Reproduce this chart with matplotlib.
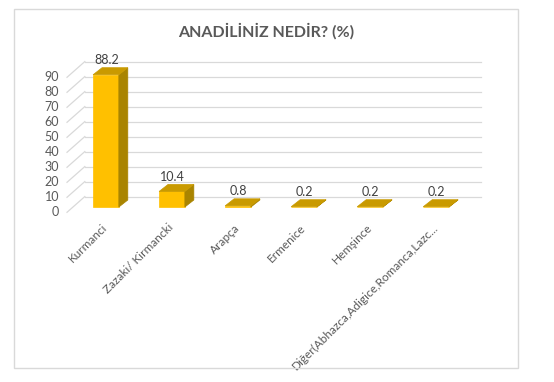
import matplotlib
matplotlib.use("Agg")
from matplotlib import pyplot as plt
from matplotlib.patches import Polygon, Rectangle

categories = ["Kurmanci", "Zazaki/ Kirmancki", "Arapça", "Ermenice", "Hemşince",
              "Diğer(Abhazca,Adigice,Romanca,Lazc..."]
values = [88.2, 10.4, 0.8, 0.2, 0.2, 0.2]
yticks = [0, 10, 20, 30, 40, 50, 60, 70, 80, 90]

plt.rcParams['font.family'] = ['Lato', 'DejaVu Sans']

W, H = 554, 382
fig = plt.figure(figsize=(W / 100, H / 100), dpi=100)

# chart border
fig.patches.append(Rectangle((14 / W, (H - 368) / H), 504 / W, 359 / H,
                             transform=fig.transFigure, fill=False,
                             edgecolor='#D9D9D9', lw=1))

# plot area: front 0 at y=212 px, 1.5 px per unit, 66 px per category
ax = fig.add_axes([67 / W, (H - 212.3) / H, 414 / W, 153 / H])
ax.set_xlim(-0.5, 5.77)
ax.set_ylim(0, 102)
ax.axis('off')

wall_dx, wall_dy = 0.27, 10.5
bar_w, bar_dx, bar_dy = 0.39, 0.136, 4.7
sx, sy = 0.09, 3.5
grid_c = '#D9D9D9'
txt_c = '#595959'

for t in yticks:
    ax.plot([-0.5 + wall_dx, 5.5 + wall_dx], [t + wall_dy, t + wall_dy],
            color=grid_c, lw=0.9, clip_on=False, zorder=1)
    ax.plot([-0.5, -0.5 + wall_dx], [t, t + wall_dy],
            color=grid_c, lw=0.9, clip_on=False, zorder=1)
    ax.text(-0.62, t, str(t), ha='right', va='center', fontsize=9, color=txt_c)

for i, v in enumerate(values):
    xl = i - bar_w / 2 + sx
    xr = xl + bar_w
    y0 = sy
    y1 = sy + v
    front = Rectangle((xl, y0), bar_w, v, facecolor='#FFC000', edgecolor='#FFC000',
                      lw=0.5, zorder=3, clip_on=False)
    side = Polygon([(xr, y0), (xr, y1), (xr + bar_dx, y1 + bar_dy), (xr + bar_dx, y0 + bar_dy)],
                   closed=True, facecolor='#A98400', edgecolor='#A98400', lw=0.5,
                   zorder=3, clip_on=False)
    top = Polygon([(xl, y1), (xr, y1), (xr + bar_dx, y1 + bar_dy), (xl + bar_dx, y1 + bar_dy)],
                  closed=True, facecolor='#C99A00', edgecolor='#C99A00', lw=0.5,
                  zorder=4, clip_on=False)
    ax.add_patch(front)
    ax.add_patch(side)
    ax.add_patch(top)
    ax.annotate(f"{v}", (i + sx + 0.01, y1 + bar_dy), xytext=(0, 1),
                textcoords='offset points', ha='center', va='bottom',
                fontsize=9, color='#404040', zorder=5)
    ax.text(i + 0.03, -6.5, categories[i], rotation=45, rotation_mode='anchor',
            ha='right', va='top', fontsize=8.5, color=txt_c)

fig.text(266 / W, 1 - 31 / H, "ANADİLİNİZ NEDİR? (%)", ha='center', va='center',
         fontsize=11.5, fontweight='bold', color='#595959')

fig.savefig("out.png", dpi=100)
